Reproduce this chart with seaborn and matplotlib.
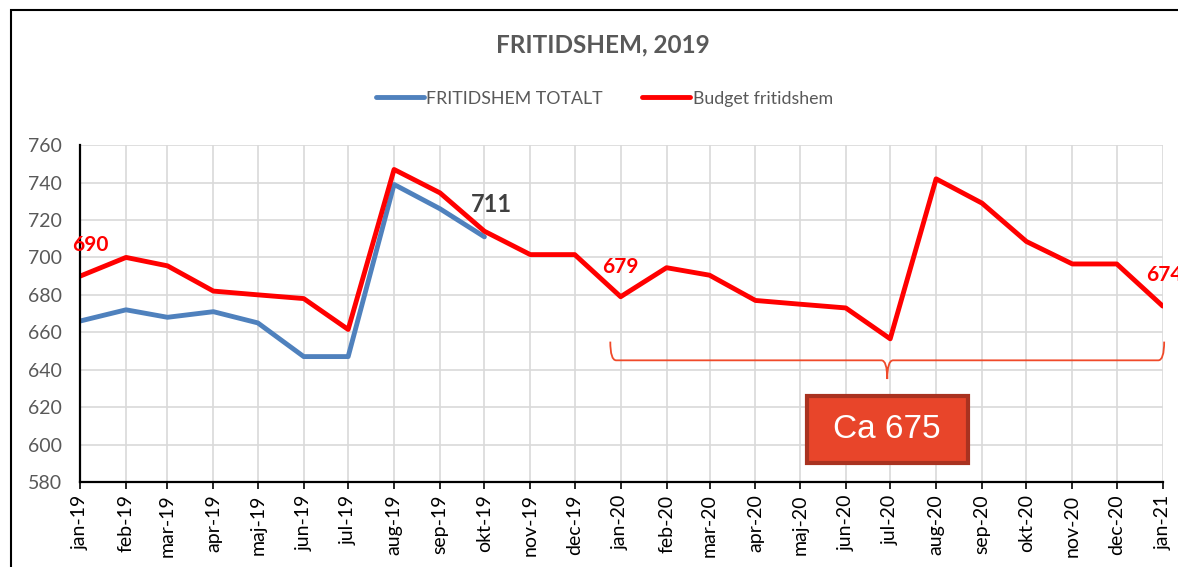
import numpy as np
import pandas as pd
import seaborn as sns
import matplotlib
matplotlib.use("Agg")
import matplotlib.pyplot as plt
import matplotlib.dates as mdates
from matplotlib.path import Path
from matplotlib.patches import PathPatch, Rectangle

# data
months = pd.date_range("2019-01-01", "2021-01-01", freq="MS")
month_labels = ["jan-19", "feb-19", "mar-19", "apr-19", "maj-19", "jun-19", "jul-19",
                "aug-19", "sep-19", "okt-19", "nov-19", "dec-19",
                "jan-20", "feb-20", "mar-20", "apr-20", "maj-20", "jun-20", "jul-20",
                "aug-20", "sep-20", "okt-20", "nov-20", "dec-20", "jan-21"]
totalt = [666, 672, 668, 671, 665, 647, 647, 739, 726, 711]
budget = [690, 700, 695.5, 682, 680, 678, 661.5, 747, 734.5, 714, 701.5, 701.5,
          679, 694.5, 690.5, 677, 675, 673, 656.5, 742, 729, 708.5, 696.5, 696.5, 674]
label_idx = [0, 12, 24]
total_label = "711"
estimate_text = "Ca 675"
estimate_level = 645

GREY = "#595959"
BLUE = "#4F81BD"
RED = "#FF0000"

sns.set_theme(style="whitegrid")
plt.rcParams["font.family"] = ["Lato", "DejaVu Sans"]

df = pd.concat([
    pd.DataFrame({"Månad": months[:len(totalt)], "Värde": totalt, "Serie": "FRITIDSHEM TOTALT"}),
    pd.DataFrame({"Månad": months, "Värde": budget, "Serie": "Budget fritidshem"}),
])

fig = plt.figure(figsize=(11.78, 5.67), dpi=100)
ax = fig.add_axes([0.068, 0.15, 0.919, 0.594])

sns.lineplot(data=df, x="Månad", y="Värde", hue="Serie",
             palette={"FRITIDSHEM TOTALT": BLUE, "Budget fritidshem": RED},
             linewidth=3.5, ax=ax, legend=False)

ax.set_xlim(months[0], months[-1])
ax.set_ylim(580, 760)
ax.set_yticks(np.arange(580, 761, 20))
ax.set_xticks(months)
ax.set_xticklabels(month_labels, rotation=90)
ax.set_xlabel("")
ax.set_ylabel("")
ax.grid(True, color="#D9D9D9", linewidth=1.2)
for s in ["top", "right"]:
    ax.spines[s].set_visible(False)
for s in ["left", "bottom"]:
    ax.spines[s].set_visible(True)
    ax.spines[s].set_color("black")
    ax.spines[s].set_linewidth(1.6)
ax.tick_params(axis="x", bottom=True, direction="out", length=5, width=1.2, color="black",
               labelsize=14, labelcolor="black", pad=4)
ax.tick_params(axis="y", left=False, labelsize=14, labelcolor=GREY, pad=7)

# data labels on the budget line
offsets = [(7, 15), (0, 14), (1.5, 15)]
for i, off in zip(label_idx, offsets):
    ax.annotate(f"{budget[i]:.0f}", (months[i], budget[i]), xytext=off, textcoords="offset points",
                ha="center", va="bottom", color=RED, fontsize=15, fontweight="bold",
                annotation_clip=False)
ax.annotate(total_label, (months[len(totalt) - 1], totalt[-1]), xytext=(-10, 15),
            textcoords="offset points", ha="left", va="bottom", color="#404040",
            fontsize=17, fontweight="bold")

# curly brace over 2020 budget
x0 = mdates.date2num(months[12]) - 7
x1 = mdates.date2num(months[24]) + 1
xm = (x0 + x1) / 2
yl, yt, ytip, d = estimate_level, estimate_level + 10, estimate_level - 10, 4
verts = [(x0, yt), (x0, yl), (x0 + d, yl), (xm - d, yl), (xm, yl), (xm, ytip),
         (xm, yl), (xm + d, yl), (x1 - d, yl), (x1, yl), (x1, yt)]
codes = [Path.MOVETO, Path.CURVE3, Path.CURVE3, Path.LINETO, Path.CURVE3, Path.CURVE3,
         Path.CURVE3, Path.CURVE3, Path.LINETO, Path.CURVE3, Path.CURVE3]
ax.add_patch(PathPatch(Path(verts, codes), fill=False, edgecolor="#F04A2A", linewidth=1.3,
                       clip_on=False))

# text box below the brace
box_w, box_h, box_y = 109, 35.5, 608
ax.add_patch(Rectangle((xm - box_w / 2, box_y - box_h / 2), box_w, box_h, facecolor="#E8452A",
                       edgecolor="#A93220", linewidth=3, zorder=5))
ax.text(xm, box_y, estimate_text, ha="center", va="center", color="white", fontsize=24,
        family="Liberation Sans", zorder=6)

# title and legend
fig.text(0.512, 0.92, "FRITIDSHEM, 2019", ha="center", va="center", fontsize=17.5,
         fontweight="bold", color=GREY)
handles = [plt.Line2D([], [], color=BLUE, linewidth=3.5, solid_capstyle="round"),
           plt.Line2D([], [], color=RED, linewidth=3.5, solid_capstyle="round")]
fig.legend(handles, ["FRITIDSHEM TOTALT", "Budget fritidshem"], loc="center",
           bbox_to_anchor=(0.513, 0.826), ncol=2, frameon=False, fontsize=12.8,
           labelcolor=GREY, handlelength=2.7, handletextpad=0.15, columnspacing=2.2)

# outer chart border (left and top edges visible)
fig.patches.append(Rectangle((0.0095, -0.1), 1.2, 1.082, transform=fig.transFigure,
                             fill=False, edgecolor="black", linewidth=1.5))

fig.savefig("out.png", dpi=100)
